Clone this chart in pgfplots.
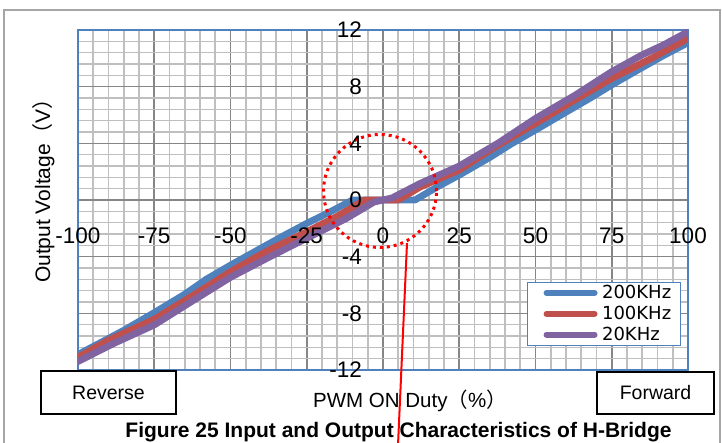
\documentclass[border=0pt]{standalone}
\usepackage{fontspec}
\setmainfont{Liberation Sans}
\newfontfamily\cjk{Noto Sans CJK JP}
\newfontfamily\dejavu{DejaVu Sans}
\usepackage{pgfplots}
\pgfplotsset{compat=1.18}
\definecolor{sblue}{HTML}{4F81BD}
\definecolor{sred}{HTML}{C0504D}
\definecolor{spurple}{HTML}{8064A2}
\definecolor{frameblue}{HTML}{4F81BD}
\definecolor{majgray}{HTML}{868686}
\definecolor{mingray}{HTML}{BFBFBF}
\definecolor{outgray}{HTML}{A6A6A6}
\pgfplotsset{
  layers/mylayers/.define layer set={axis background,axis grid,axis ticks,axis lines,pre main,main,axis tick labels,axis descriptions,axis foreground}{
    grid style={/pgfplots/on layer=axis grid},
    tick style={/pgfplots/on layer=axis ticks},
    axis line style={/pgfplots/on layer=axis lines},
    label style={/pgfplots/on layer=axis descriptions},
    legend style={/pgfplots/on layer=axis descriptions},
    title style={/pgfplots/on layer=axis descriptions},
    colorbar style={/pgfplots/on layer=axis descriptions},
    ticklabel style={/pgfplots/on layer=axis tick labels},
    axis background@ style={/pgfplots/on layer=axis background},
    3d box foreground style={/pgfplots/on layer=axis foreground},
  },
}
\begin{document}
\begin{tikzpicture}
\draw[outgray, line width=1.5pt] (4pt,-2pt) -- (4pt,433pt) -- (720pt,433pt) -- (720pt,-2pt);
\begin{axis}[
  set layers=mylayers,
  at={(78pt,73pt)}, anchor=south west,
  width=610pt, height=340pt, scale only axis,
  xmin=-100, xmax=100, ymin=-12, ymax=12,
  xtick={-100,-75,-50,-25,0,25,50,75,100},
  ytick={-12,-8,-4,0,4,8,12},
  xticklabels={-100,-75,-50,-25,0,25,50,75,100},
  yticklabels={-12,-8,-4,0,4,8,12},
  minor x tick num=4, minor y tick num=4,
  grid=both,
  major grid style={draw=majgray, line width=1.6pt},
  minor grid style={draw=mingray, line width=1.6pt},
  major tick length=0pt, minor tick length=0pt,
  axis line style={draw=frameblue, line width=1.8pt},
  xticklabel style={font=\fontsize{22.5}{26}\selectfont, anchor=center, yshift=134pt, inner sep=0pt},
  yticklabel style={font=\fontsize{22.5}{26}\selectfont, anchor=east, xshift=284pt, inner sep=0pt},
  legend style={at={(0.736,0.259)}, anchor=north west, draw=frameblue, line width=1.2pt, fill=white,
    font=\dejavu\fontsize{18}{21}\selectfont, inner xsep=7pt, inner ysep=1pt, row sep=2pt,
    cells={anchor=west}, /tikz/every odd column/.append style={column sep=2.5pt}},
  legend image code/.code={\draw[white, line width=0pt, opacity=0] (0pt,0pt) -- (1pt,0pt); \draw[#1, line width=6pt, line cap=round] (12pt,0pt) -- (60pt,0pt);},
  every axis plot/.append style={line width=6.8pt, line join=round, line cap=round, no markers},
]
\addplot[sblue] coordinates {
(-100,-10.9) (-92,-10.0) (-85,-9.2) (-75,-7.95) (-65,-6.65) (-58,-5.6) (-50,-4.6)
(-40,-3.4) (-32,-2.45) (-25,-1.65) (-17,-0.8) (-10,0) (10.5,0) (18,0.95) (25,1.76)
(35,3.0) (42,3.95) (50,4.94) (60,6.2) (68,7.2) (75,8.12) (85,9.35) (92,10.2) (100,11.1)
};
\addlegendentry{200KHz}
\addplot[sred] coordinates {
(-100,-11.1) (-90,-9.9) (-75,-8.42) (-62,-6.7) (-50,-5.06) (-38,-3.6) (-25,-2.24)
(-15,-1.15) (-6,0) (5,0) (12,0.9) (25,2.12) (36,3.65) (50,5.41) (62,6.95) (75,8.59)
(88,10.0) (100,11.4)
};
\addlegendentry{100KHz}
\addplot[spurple] coordinates {
(-100,-11.4) (-88,-10.1) (-75,-8.82) (-63,-7.2) (-50,-5.46) (-37,-4.0) (-25,-2.7)
(-12,-1.3) (-3,-0.15) (3,0.15) (12,1.15) (25,2.4) (38,4.05) (50,5.76) (63,7.4)
(75,9.06) (85,10.25) (92,10.95) (100,11.88)
};
\addlegendentry{20KHz}
\end{axis}
% annotations
\draw[red, line width=3pt, dash pattern=on 3pt off 4pt] (380pt,252pt) circle (56.5pt);
\draw[red, line width=2pt] (407pt,200pt) -- (398pt,-2pt);
\draw[black, line width=2pt, fill=white] (41pt,29pt) rectangle (176pt,72pt);
\node[anchor=base, font=\fontsize{19.5}{22}\selectfont] at (108.5pt,43pt) {Reverse};
\draw[black, line width=2pt, fill=white] (597pt,29pt) rectangle (714pt,71pt);
\node[anchor=base, font=\fontsize{19.5}{22}\selectfont] at (655.5pt,43pt) {Forward};
\node[anchor=base, font=\fontsize{20.5}{24}\selectfont] at (410pt,35pt) {PWM ON Duty{\cjk（}\%{\cjk）}};
\node[anchor=base, rotate=90, font=\fontsize{21}{24}\selectfont] at (50pt,257.5pt) {Output Voltage{\cjk（}V{\cjk）}};
\node[anchor=base, font=\bfseries\fontsize{21}{24}\selectfont] at (398.5pt,5.5pt) {Figure 25 Input and Output Characteristics of H-Bridge};
\pgfresetboundingbox
\useasboundingbox (0pt,0pt) rectangle (722pt,443pt);
\end{tikzpicture}
\end{document}
